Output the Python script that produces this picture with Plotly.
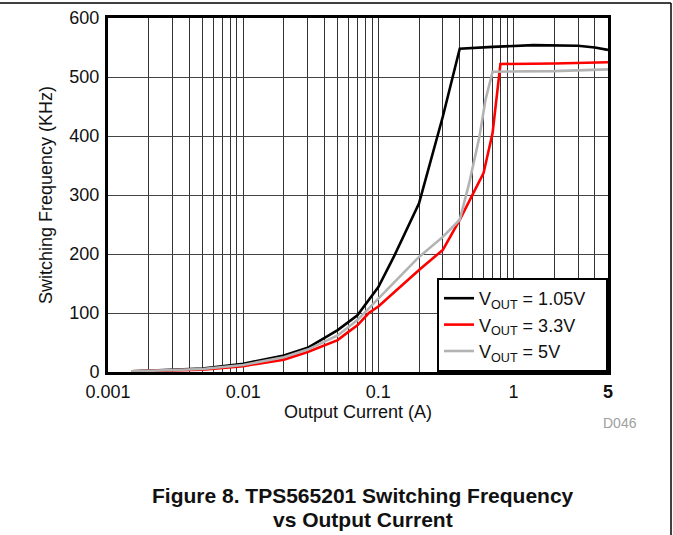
import plotly.graph_objects as go

# Data
current_105 = [0.0015, 0.002, 0.005, 0.01, 0.02, 0.03, 0.05, 0.07, 0.1, 0.13, 0.2, 0.3, 0.4, 0.7, 1.4, 3, 4, 5]
freq_105 = [1, 2, 6, 14, 28, 41, 71, 96, 144, 195, 286, 433, 548, 551, 554, 553, 550, 546]

current_33 = [0.0015, 0.002, 0.005, 0.01, 0.02, 0.03, 0.05, 0.06, 0.07, 0.085, 0.1, 0.2, 0.3, 0.4, 0.6, 0.7, 0.8, 2, 5]
freq_33 = [1, 2, 4, 10, 21, 34, 54, 68, 79, 100, 111, 173, 207, 258, 337, 405, 522, 523, 525]

current_5 = [0.0015, 0.002, 0.005, 0.01, 0.02, 0.03, 0.05, 0.07, 0.1, 0.2, 0.3, 0.4, 0.47, 0.56, 0.62, 0.7, 2, 5]
freq_5 = [1, 2, 5, 12, 25, 38, 62, 88, 124, 195, 229, 258, 320, 399, 461, 509, 510, 513]

series_names = ["V<sub>OUT</sub> = 1.05V&nbsp;&nbsp;&nbsp;", "V<sub>OUT</sub> = 3.3V", "V<sub>OUT</sub> = 5V"]
series_colors = ["#000000", "#ff0000", "#b3b3b3"]

x_tickvals = [0.001, 0.01, 0.1, 1, 5]
x_ticktext = ["0.001", "0.01", "0.1", "1", "<b>5</b>"]
x_minor_vals = [m * d for d in [0.001, 0.01, 0.1, 1] for m in range(2, 10) if m * d < 5]
y_tickvals = [0, 100, 200, 300, 400, 500, 600]

FONT = "Liberation Sans, Arial, sans-serif"

fig = go.Figure()
for xs, ys, name, col in [
    (current_105, freq_105, series_names[0], series_colors[0]),
    (current_33, freq_33, series_names[1], series_colors[1]),
    (current_5, freq_5, series_names[2], series_colors[2]),
]:
    fig.add_trace(go.Scatter(x=xs, y=ys, mode="lines", name=name,
                             line=dict(color=col, width=2.6)))

fig.update_layout(
    width=673, height=535,
    margin=dict(l=108, r=65, t=18, b=163, autoexpand=False),
    paper_bgcolor="white", plot_bgcolor="white",
    font=dict(family=FONT, size=18, color="#111"),
    showlegend=True,
    legend=dict(x=1, y=0, xanchor="right", yanchor="bottom",
                bgcolor="white", bordercolor="black", borderwidth=2,
                font=dict(family=FONT, size=18, color="#111"),
                tracegroupgap=0, itemwidth=30),
)

fig.update_xaxes(
    type="log", range=[-3, 0.69897], automargin=False,
    tickvals=x_tickvals, ticktext=x_ticktext,
    showgrid=True, gridcolor="#333", gridwidth=1,
    minor=dict(tickvals=x_minor_vals, showgrid=True, gridcolor="#333", gridwidth=1, ticks=""),
    showline=True, linecolor="black", linewidth=3, mirror=True,
    ticks="", ticklabelstandoff=1,
    title=dict(text="Output Current (A)", standoff=0, font=dict(size=18)),
    zeroline=False,
)
fig.update_yaxes(
    range=[0, 600], tickvals=y_tickvals, automargin=False,
    showgrid=True, gridcolor="#444", gridwidth=1,
    showline=True, linecolor="black", linewidth=3, mirror=True,
    ticks="", ticklabelstandoff=2,
    title=dict(text="Switching Frequency (KHz)", standoff=13, font=dict(size=18)),
    zeroline=False,
)

fig.add_annotation(text="D046", xref="paper", yref="paper", x=1.024, y=-0.144,
                   xanchor="center", yanchor="middle", showarrow=False,
                   font=dict(family=FONT, size=14, color="#a0a0a0"))
fig.add_annotation(text="<b>Figure 8. TPS565201 Switching Frequency</b>",
                   xref="paper", yref="paper", x=0.51, y=-0.350,
                   xanchor="center", yanchor="middle", showarrow=False,
                   font=dict(family=FONT, size=21, color="#111"))
fig.add_annotation(text="<b>vs Output Current</b>",
                   xref="paper", yref="paper", x=0.51, y=-0.418,
                   xanchor="center", yanchor="middle", showarrow=False,
                   font=dict(family=FONT, size=21, color="#111"))

# page frame lines
fig.add_shape(type="line", xref="paper", yref="paper", x0=-108/500, x1=563/500,
              y0=369/354, y1=369/354, line=dict(color="black", width=1.5))
fig.add_shape(type="line", xref="paper", yref="paper", x0=563/500, x1=563/500,
              y0=369/354, y1=-163/354, line=dict(color="black", width=1.5))

fig.write_html("out.html", config={"displayModeBar": False},
               post_script="document.body.style.margin='0';")
